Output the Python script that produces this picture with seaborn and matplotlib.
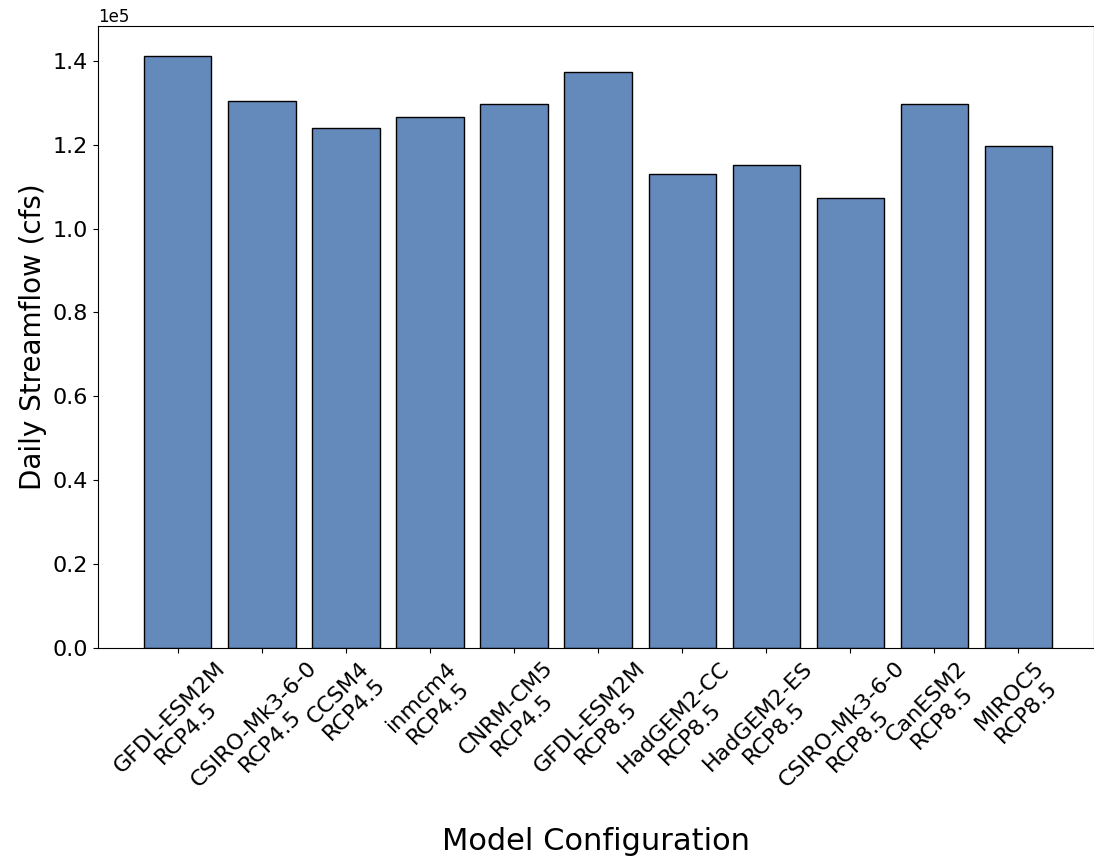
import matplotlib
matplotlib.use("Agg")
import matplotlib.pyplot as plt
import seaborn as sns
import pandas as pd

models = [
    "GFDL-ESM2M\nRCP4.5", "CSIRO-Mk3-6-0\nRCP4.5", "CCSM4\nRCP4.5",
    "inmcm4\nRCP4.5", "CNRM-CM5\nRCP4.5", "GFDL-ESM2M\nRCP8.5",
    "HadGEM2-CC\nRCP8.5", "HadGEM2-ES\nRCP8.5", "CSIRO-Mk3-6-0\nRCP8.5",
    "CanESM2\nRCP8.5", "MIROC5\nRCP8.5",
]
streamflow = [141200, 130450, 124000, 126600, 129700, 137400,
              113000, 115200, 107300, 129700, 119700]

df = pd.DataFrame({"model": models, "flow": streamflow})

fig = plt.figure(figsize=(10.94, 8.6), dpi=100)
ax = fig.add_axes([0.0896, 0.2465, 0.9104, 0.7233])

sns.barplot(data=df, x="model", y="flow", color="#648abc", saturation=1,
            edgecolor="black", linewidth=1, width=0.8, ax=ax)

ax.set_xlim(-0.95, 10.9)
ax.set_ylim(0, 148300)
ax.ticklabel_format(style="sci", axis="y", scilimits=(5, 5))
ax.yaxis.get_offset_text().set_fontsize(12)
ax.tick_params(axis="both", labelsize=16)
plt.setp(ax.get_xticklabels(), rotation=45)
ax.set_xlabel("Model Configuration", fontsize=22, labelpad=14)
ax.set_ylabel("Daily Streamflow (cfs)", fontsize=20)

fig.savefig("out.png", dpi=100)
